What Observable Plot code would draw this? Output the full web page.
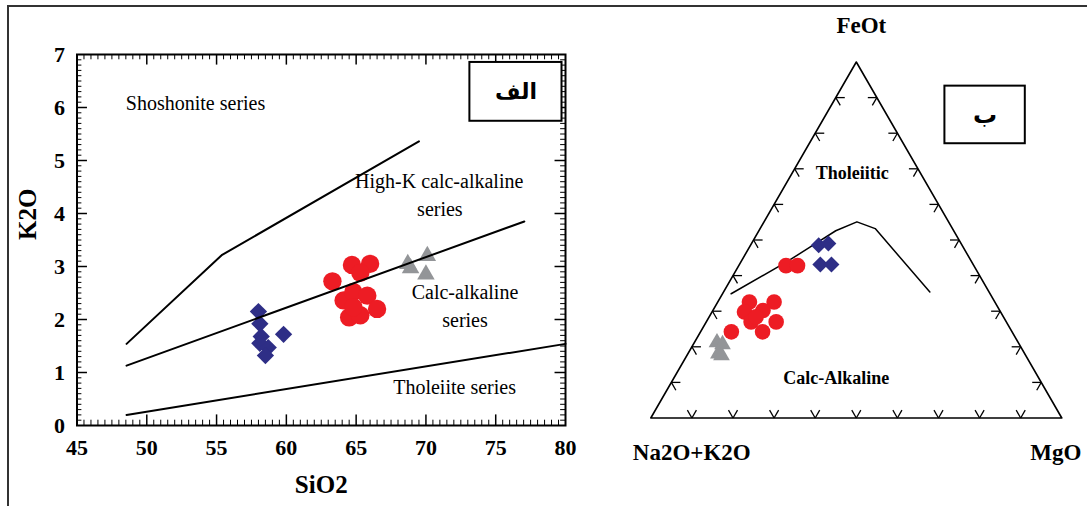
<!DOCTYPE html>
<html><head><meta charset="utf-8">
<script src="https://cdn.jsdelivr.net/npm/d3@7"></script>
<script src="https://cdn.jsdelivr.net/npm/@observablehq/plot@0.6"></script>
<style>
html,body{margin:0;padding:0;background:#fff;}
#page{position:relative;width:1087px;height:506px;overflow:hidden;background:#fff;}
#border{position:absolute;left:7px;top:5px;width:1100px;height:520px;border-left:2px solid #333;border-top:2px solid #333;}
#left{position:absolute;left:0;top:0;}
#right{position:absolute;left:600px;top:0;}
svg{overflow:visible;}
</style></head><body>
<div id="page"><div id="border"></div><div id="left"></div><div id="right"></div></div>
<script>
// ---------- Panel الف : K2O vs SiO2 ----------
const xTickLabels = [45, 50, 55, 60, 65, 70, 75, 80];
const yTickLabels = [0, 1, 2, 3, 4, 5, 6, 7];
const xMinorTicks = d3.range(45.5, 80, 0.5).filter(v => v % 5 !== 0);
const yMinorTicks = d3.range(1, 70).filter(v => v % 10 !== 0).map(v => v / 10);
const xMajorTicks = [50, 55, 60, 65, 70, 75];
const yMajorTicks = [1, 2, 3, 4, 5, 6];

// boundary lines (SiO2, K2O)
const shoshoniteLine = [[48.55, 1.54], [55.4, 3.22], [69.5, 5.36]];
const highKLine = [[48.55, 1.13], [77.05, 3.85]];
const tholeiiteLine = [[48.55, 0.20], [80, 1.54]];

// samples (SiO2, K2O)
const blueSamples = [[58.0, 2.15], [58.1, 1.92], [59.8, 1.72], [58.2, 1.68], [58.1, 1.55], [58.7, 1.47], [58.5, 1.32]];
const redSamples = [[63.3, 2.72], [64.7, 3.03], [66.0, 3.05], [65.3, 2.88], [64.1, 2.36], [64.8, 2.52], [65.8, 2.45], [66.5, 2.2], [64.5, 2.04], [65.3, 2.08], [64.8, 2.23]];
const graySamples = [[68.7, 3.05], [70.1, 3.2], [70.0, 2.85], [68.9, 2.97]];

const seriesLabels = [
  {text: "Shoshonite series", x: 48.5, y: 6.08, anchor: "start"},
  {text: "High-K calc-alkaline", x: 70.95, y: 4.6, anchor: "middle"},
  {text: "series", x: 71.0, y: 4.08, anchor: "middle"},
  {text: "Calc-alkaline", x: 72.8, y: 2.5, anchor: "middle"},
  {text: "series", x: 72.8, y: 1.98, anchor: "middle"},
  {text: "Tholeiite series", x: 72.05, y: 0.72, anchor: "middle"}
];
const panelTagA = "الف";
const tagBoxA = [{x1: 73.15, x2: 79.75, y1: 5.74, y2: 6.85}];

// ---------- Panel ب : AFM ----------
// compositions as [A (Na2O+K2O), F (FeOt), M (MgO)]
const afmVertices = [[100, 0, 0], [0, 100, 0], [0, 0, 100], [100, 0, 0]];
const afmBoundary = [[63.0, 34.9, 2.1], [45.3, 43.7, 11.0], [36.5, 48.4, 15.1], [28.7, 52.6, 18.7], [22.3, 55.1, 22.6], [18.8, 53.2, 28.0], [14.4, 35.4, 50.2]];
const afmBlue = [[34.9, 48.5, 16.6], [32.3, 49.0, 18.7], [37.2, 43.1, 19.7], [34.5, 43.1, 22.4]];
const afmRed = [[45.7, 42.8, 11.5], [42.9, 42.8, 14.3], [59.7, 32.6, 7.7], [53.7, 32.6, 13.7], [62.3, 29.8, 7.9], [57.6, 30.2, 12.2], [62.1, 27.0, 10.9], [56.0, 27.0, 17.0], [60.7, 24.2, 15.1], [68.3, 24.2, 7.5], [60.2, 28.4, 11.4]];
const afmGray = [[73.3, 21.2, 5.5], [72.2, 20.7, 7.1], [74.5, 18.1, 7.4], [74.0, 17.6, 8.4]];
const tickFractions = [0.1, 0.2, 0.3, 0.4, 0.5, 0.6, 0.7, 0.8, 0.9];
const regionLabels = [
  {text: "Tholeiitic", c: [16.6, 68.8, 14.6]},
  {text: "Calc-Alkaline", c: [49.3, 11.2, 39.5]}
];
const apexF = {text: "FeOt", c: [0, 100, 0]};
const apexA = {text: "Na2O+K2O", c: [100, 0, 0]};
const apexM = {text: "MgO", c: [0, 0, 100]};
const panelTagB = "ب";
const tagBoxB = [{x1: 0.7156, x2: 0.9112, y1: 0.6672, y2: 0.8073}];

// ---------- drawing ----------
const serif = "'Liberation Serif','Times New Roman',serif";
const RED = "#ed1c24", BLUE = "#2e2e86", GRAY = "#939598";

const left = Plot.plot({
  width: 600, height: 506,
  marginLeft: 76.5, marginRight: 35, marginTop: 54, marginBottom: 81,
  x: {domain: [45, 80]},
  y: {domain: [0, 7]},
  style: {fontFamily: serif, fontSize: "20px", background: "transparent", color: "#000", overflow: "visible"},
  marks: [
    Plot.ruleX(xMinorTicks, {y1: 0, y2: 0.1, strokeWidth: 1}),
    Plot.ruleX(xMinorTicks, {y1: 7, y2: 6.9, strokeWidth: 1}),
    Plot.ruleX(xMajorTicks, {y1: 0, y2: 0.2, strokeWidth: 1.5}),
    Plot.ruleX(xMajorTicks, {y1: 7, y2: 6.8, strokeWidth: 1.5}),
    Plot.ruleY(yMinorTicks, {x1: 45, x2: 45.35, strokeWidth: 1}),
    Plot.ruleY(yMinorTicks, {x1: 80, x2: 79.65, strokeWidth: 1}),
    Plot.ruleY(yMajorTicks, {x1: 45, x2: 45.75, strokeWidth: 1.5}),
    Plot.ruleY(yMajorTicks, {x1: 80, x2: 79.25, strokeWidth: 1.5}),
    Plot.frame({strokeWidth: 2}),
    Plot.axisX({ticks: xTickLabels, tickSize: 0, tickPadding: 14, label: null, fontSize: 22, fontWeight: "bold", tickFormat: d => String(d)}),
    Plot.axisY({ticks: yTickLabels, tickSize: 0, tickPadding: 12, label: null, fontSize: 22, fontWeight: "bold", tickFormat: d => String(d)}),
    Plot.text(["SiO2"], {text: d => d, frameAnchor: "bottom", dy: 67, fontSize: 25, fontWeight: "bold"}),
    Plot.text(["K2O"], {text: d => d, frameAnchor: "left", dx: -49, rotate: -90, fontSize: 25, fontWeight: "bold"}),
    Plot.dot(blueSamples, {x: d => d[0], y: d => d[1], symbol: "diamond2", r: 7.8, fill: BLUE, stroke: null}),
    Plot.dot(redSamples, {x: d => d[0], y: d => d[1], symbol: "circle", r: 9.2, fill: RED, stroke: null}),
    Plot.dot(graySamples, {x: d => d[0], y: d => d[1], symbol: "triangle", r: 6.5, fill: GRAY, stroke: null}),
    Plot.line(shoshoniteLine, {x: d => d[0], y: d => d[1], strokeWidth: 2, stroke: "#000"}),
    Plot.line(highKLine, {x: d => d[0], y: d => d[1], strokeWidth: 2, stroke: "#000"}),
    Plot.line(tholeiiteLine, {x: d => d[0], y: d => d[1], strokeWidth: 2, stroke: "#000"}),
    Plot.text(seriesLabels.filter(d => d.anchor === "start"), {x: "x", y: "y", text: "text", textAnchor: "start", fontSize: 20}),
    Plot.text(seriesLabels.filter(d => d.anchor === "middle"), {x: "x", y: "y", text: "text", textAnchor: "middle", fontSize: 20}),
    Plot.rect(tagBoxA, {x1: "x1", x2: "x2", y1: "y1", y2: "y2", fill: "#fff", stroke: "#000", strokeWidth: 2}),
    Plot.text([panelTagA], {text: d => d, x: () => (tagBoxA[0].x1 + tagBoxA[0].x2) / 2, y: () => (tagBoxA[0].y1 + tagBoxA[0].y2) / 2, fontSize: 22, fontWeight: "bold", fontFamily: "'DejaVu Sans',sans-serif"})
  ]
});
document.getElementById("left").append(left);

const SQ = Math.sqrt(3) / 2;
function tx(c) { const s = c[0] + c[1] + c[2]; return c[2] / s + (c[1] / s) / 2; }
function ty(c) { const s = c[0] + c[1] + c[2]; return (c[1] / s) * SQ; }

// chevron ticks on the triangle edges
const P = {A: [0, 0], F: [0.5, SQ], M: [1, 0]};
const edges = [
  {from: "A", to: "M", arms: [[0.5, SQ], [-0.5, SQ]]},
  {from: "A", to: "F", arms: [[1, 0], [0.5, -SQ]]},
  {from: "M", to: "F", arms: [[-1, 0], [-0.5, -SQ]]}
];
const armLen = 0.022;
const chevrons = [];
for (const e of edges) {
  const a = P[e.from], b = P[e.to];
  for (const t of tickFractions) {
    const px = a[0] + t * (b[0] - a[0]), py = a[1] + t * (b[1] - a[1]);
    for (const d of e.arms) chevrons.push({x1: px, y1: py, x2: px + armLen * d[0], y2: py + armLen * d[1]});
  }
}

const apexText = (d, dx, dy) => Plot.text([d], {x: v => tx(v.c), y: v => ty(v.c), text: "text", dx, dy, fontSize: 23, fontWeight: "bold"});

const right = Plot.plot({
  width: 487, height: 506,
  marginLeft: 50.3, marginRight: 25.7, marginTop: 61.5, marginBottom: 88.5,
  x: {domain: [0, 1], axis: null},
  y: {domain: [0, SQ], axis: null},
  style: {fontFamily: serif, fontSize: "18px", background: "transparent", color: "#000", overflow: "visible"},
  marks: [
    Plot.line(afmVertices, {x: tx, y: ty, stroke: "#000", strokeWidth: 1.6}),
    Plot.link(chevrons, {x1: "x1", y1: "y1", x2: "x2", y2: "y2", stroke: "#000", strokeWidth: 1.3}),
    Plot.line(afmBoundary, {x: tx, y: ty, stroke: "#000", strokeWidth: 1.5}),
    Plot.dot(afmGray, {x: tx, y: ty, symbol: "triangle", r: 6.2, fill: GRAY, stroke: null}),
    Plot.dot(afmRed, {x: tx, y: ty, symbol: "circle", r: 7.8, fill: RED, stroke: null}),
    Plot.dot(afmBlue, {x: tx, y: ty, symbol: "diamond2", r: 7.2, fill: BLUE, stroke: null}),
    Plot.text(regionLabels, {x: d => tx(d.c), y: d => ty(d.c), text: "text", fontSize: 18, fontWeight: "bold"}),
    apexText(apexF, 5, -36),
    apexText(apexA, 41, 35),
    apexText(apexM, -6, 35),
    Plot.rect(tagBoxB, {x1: "x1", x2: "x2", y1: "y1", y2: "y2", fill: "#fff", stroke: "#000", strokeWidth: 2}),
    Plot.text([panelTagB], {text: d => d, x: () => (tagBoxB[0].x1 + tagBoxB[0].x2) / 2, y: () => (tagBoxB[0].y1 + tagBoxB[0].y2) / 2, fontSize: 24, fontWeight: "bold", fontFamily: "'DejaVu Sans',sans-serif"})
  ]
});
document.getElementById("right").append(right);
</script>
</body></html>
